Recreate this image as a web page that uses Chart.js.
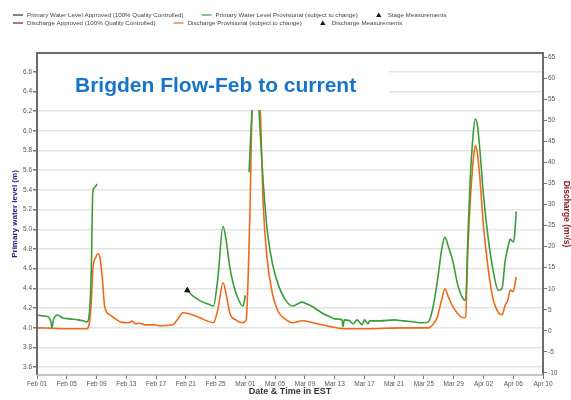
<!DOCTYPE html>
<html>
<head>
<meta charset="utf-8">
<script src="https://cdn.jsdelivr.net/npm/chart.js@4.4.1/dist/chart.umd.min.js"></script>
<style>
  html, body { margin: 0; padding: 0; background: #fff; }
  #wrap { width: 571px; height: 400px; }
</style>
</head>
<body>
<div id="wrap"><canvas id="flowChart" width="571" height="400"></canvas></div>
<script>
// x values are days counted from Feb 01
const xTickLabels = ['Feb 01', 'Feb 05', 'Feb 09', 'Feb 13', 'Feb 17', 'Feb 21', 'Feb 25', 'Mar 01', 'Mar 05',
  'Mar 09', 'Mar 13', 'Mar 17', 'Mar 21', 'Mar 25', 'Mar 29', 'Apr 02', 'Apr 06', 'Apr 10'];
const levelTicks = [3.6, 3.8, 4.0, 4.2, 4.4, 4.6, 4.8, 5.0, 5.2, 5.4, 5.6, 5.8, 6.0, 6.2, 6.4, 6.6];
const dischargeTicks = [-10, -5, 0, 5, 10, 15, 20, 25, 30, 35, 40, 45, 50, 55, 60, 65];

// Primary water level, provisional (m) - null = no data
const levelDays = [0, 0.8, 1.5, 1.9, 2.0, 2.2, 2.4, 2.7, 3.5, 4.4, 5.5, 6.2, 6.7, 7.0, 7.3, 7.5, 7.8, 8.06, 8.1,
  20.3, 21.0, 22.0, 23.0, 23.7, 24.3, 25.0, 25.4, 25.9, 26.3, 27.0, 27.7, 28.0, 28.2,
  28.5, 28.9, 29.3, 29.7, 30.1, 30.4, 31.0, 31.7, 32.5, 33.6, 34.4, 35.0, 35.6, 36.3, 37.1, 38.3, 39.4, 40.0,
  41.0, 41.1, 41.3, 42.0, 42.5, 43.0, 43.7, 44.0, 44.5, 44.7, 46.1, 48.0, 49.2, 50.5, 51.9, 52.6, 53.2, 53.8,
  54.4, 54.8, 55.3, 55.9, 56.5, 57.3, 57.6, 57.9, 58.2, 58.6, 58.9, 59.2, 59.5, 60.0, 60.6, 61.3, 62.0, 62.5,
  62.9, 63.3, 63.6, 64.0, 64.2, 64.4];
const levelValues = [4.13, 4.12, 4.11, 4.05, 4.00, 4.08, 4.11, 4.13, 4.10, 4.09, 4.08, 4.07, 4.06, 4.12, 4.60, 5.38, 5.43, 5.46, null,
  4.37, 4.32, 4.27, 4.24, 4.22, 4.50, 5.03, 4.90, 4.62, 4.47, 4.30, 4.22, 4.33, null,
  5.58, 6.20, 6.50, 6.35, 5.85, 5.48, 4.95, 4.63, 4.42, 4.26, 4.22, 4.24, 4.26, 4.24, 4.21, 4.15, 4.11, 4.09,
  4.08, 4.01, 4.08, 4.07, 4.04, 4.08, 4.03, 4.08, 4.04, 4.07, 4.07, 4.08, 4.07, 4.06, 4.05, 4.06, 4.20, 4.47,
  4.80, 4.92, 4.82, 4.67, 4.45, 4.29, 4.28, 4.90, 5.48, 5.95, 6.12, 6.05, 5.82, 5.35, 4.93, 4.58, 4.38, 4.40,
  4.67, 4.82, 4.90, 4.87, 4.95, 5.18];

// Discharge, provisional (m3/s)
const flowDays = [0, 2, 4, 6.7, 7.0, 7.3, 7.5, 7.9, 8.2, 8.5, 8.8, 9.1, 9.8, 10.5, 11.2, 12.3, 12.8, 13.2, 13.8,
  14.5, 15.6, 16.5, 17.5, 18.3, 19.0, 19.6, 20.3, 21.9, 22.8, 23.7, 24.3, 25.0, 25.5, 25.9, 26.8, 27.7, 28.1,
  28.6, 28.9, 29.3, 30.0, 30.4, 30.9, 31.5, 32.3, 33.6, 34.4, 35.6, 37.1, 39.4, 41.1, 44.5, 49.2, 52.6, 53.2,
  53.8, 54.4, 54.8, 55.3, 55.9, 57.3, 57.6, 57.9, 58.2, 58.6, 58.9, 59.2, 59.5, 60.0, 60.6, 61.3, 62.0, 62.5,
  62.9, 63.3, 63.6, 64.0, 64.4];
const flowValues = [0.7, 0.6, 0.5, 0.5, 1.5, 7, 14.5, 17.5, 18.3, 17, 12, 5.7, 3.8, 2.9, 2.1, 1.9, 2.3, 1.7, 1.8,
  1.4, 1.4, 1.2, 1.3, 1.5, 3, 4.3, 4.1, 3.1, 2.4, 1.9, 5, 11.4, 8, 4.3, 2.5, 1.9, 2.6,
  27, 52, 58, 52, 30, 17.6, 10, 5, 2.5, 1.9, 2.4, 1.9, 1.0, 0.5, 0.5, 0.7, 0.7, 1.5,
  3.3, 7.5, 10, 8, 5.7, 3.1, 3.3, 19, 30, 40, 44, 42, 36.6, 25, 15.2, 7.5, 4.3, 3.8,
  6, 7.4, 9.7, 9.3, 12.8];

// stage measurement
const stageMeasDays = [20.2];
const stageMeasValues = [4.38];

const FONT = "'Liberation Sans', Arial, sans-serif";
const GREEN = '#3c9c3c';
const ORANGE = '#ef6a1c';

const toPoints = (xs, ys) => xs.map((x, i) => ({ x: x, y: ys[i] }));

// little two-row legend on top, flowing left to right
const legendRows = [
  [
    { text: 'Primary Water Level Approved (100% Quality Controlled)', color: '#23304a', kind: 'line' },
    { text: 'Primary Water Level Provisional (subject to change)', color: GREEN, kind: 'line' },
    { text: 'Stage Measurements', color: '#111', kind: 'tri' }
  ],
  [
    { text: 'Discharge Approved (100% Quality Controlled)', color: '#7a1f24', kind: 'line' },
    { text: 'Discharge Provisional (subject to change)', color: ORANGE, kind: 'line' },
    { text: 'Discharge Measurements', color: '#111', kind: 'tri' }
  ]
];

function drawTriangle(ctx, cx, cy, r) {
  ctx.beginPath();
  ctx.moveTo(cx, cy - r);
  ctx.lineTo(cx + r, cy + r * 0.8);
  ctx.lineTo(cx - r, cy + r * 0.8);
  ctx.closePath();
  ctx.fill();
}

const topLegend = {
  id: 'topLegend',
  afterDraw(chart) {
    const ctx = chart.ctx;
    ctx.save();
    ctx.font = '6.2px ' + FONT;
    ctx.textBaseline = 'middle';
    legendRows.forEach((row, r) => {
      const y = 15 + r * 8;
      let x = 13;
      row.forEach(item => {
        ctx.fillStyle = item.color;
        ctx.strokeStyle = item.color;
        if (item.kind === 'line') {
          ctx.lineWidth = 1.2;
          ctx.beginPath();
          ctx.moveTo(x, y);
          ctx.lineTo(x + 10, y);
          ctx.stroke();
          x += 14;
        } else {
          drawTriangle(ctx, x + 3, y, 2.6);
          x += 12;
        }
        ctx.fillStyle = '#444';
        ctx.fillText(item.text, x, y);
        x += ctx.measureText(item.text).width + 18;
      });
    });
    ctx.restore();
  }
};

// white panel with the big blue title, plus the plot frame
const titlePanel = {
  id: 'titlePanel',
  afterDatasetsDraw(chart) {
    const ctx = chart.ctx;
    const a = chart.chartArea;
    ctx.save();
    ctx.fillStyle = '#fff';
    ctx.fillRect(a.left + 1, a.top + 1, 351, 56);
    ctx.fillStyle = '#1874c8';
    ctx.font = 'bold 21px ' + FONT;
    ctx.textBaseline = 'alphabetic';
    ctx.fillText('Brigden Flow-Feb to current', 75, 92);

    ctx.strokeStyle = '#6b6b6b';
    ctx.lineWidth = 2;
    ctx.beginPath();
    ctx.moveTo(a.left, a.bottom);
    ctx.lineTo(a.left, a.top);
    ctx.lineTo(a.right, a.top);
    ctx.lineTo(a.right, a.bottom);
    ctx.stroke();
    ctx.strokeStyle = '#b5b5b5';
    ctx.lineWidth = 1.5;
    ctx.beginPath();
    ctx.moveTo(a.left, a.bottom);
    ctx.lineTo(a.right, a.bottom);
    ctx.stroke();
    ctx.restore();
  }
};

const ctx = document.getElementById('flowChart').getContext('2d');

const chart = new Chart(ctx, {
  type: 'line',
  data: {
    datasets: [
      {
        label: 'Stage Measurements',
        type: 'scatter',
        data: toPoints(stageMeasDays, stageMeasValues),
        yAxisID: 'y',
        pointStyle: 'triangle',
        pointRadius: 3,
        backgroundColor: '#111',
        borderColor: '#111',
        borderWidth: 1
      },
      {
        label: 'Primary Water Level Provisional (subject to change)',
        data: toPoints(levelDays, levelValues),
        yAxisID: 'y',
        borderColor: GREEN,
        borderWidth: 1.6,
        pointRadius: 0,
        spanGaps: false,
        cubicInterpolationMode: 'monotone'
      },
      {
        label: 'Discharge Provisional (subject to change)',
        data: toPoints(flowDays, flowValues),
        yAxisID: 'y1',
        borderColor: ORANGE,
        borderWidth: 1.6,
        pointRadius: 0,
        cubicInterpolationMode: 'monotone'
      }
    ]
  },
  options: {
    responsive: false,
    animation: false,
    devicePixelRatio: 1,
    layout: { padding: { top: 53, left: 0, right: 0, bottom: 0 } },
    plugins: {
      legend: { display: false },
      tooltip: { enabled: false }
    },
    scales: {
      x: {
        type: 'linear',
        min: 0,
        max: 68,
        afterBuildTicks: (scale) => {
          scale.ticks = xTickLabels.map((_, i) => ({ value: i * 4 }));
        },
        afterFit: (scale) => { scale.height = 25; },
        ticks: {
          autoSkip: false,
          maxRotation: 0,
          padding: 1,
          color: '#555',
          font: { family: FONT, size: 6.5 },
          callback: (v) => xTickLabels[Math.round(v / 4)]
        },
        grid: { drawOnChartArea: false, tickLength: 4, tickColor: '#777' },
        border: { display: false },
        title: {
          display: true,
          text: 'Date & Time in EST',
          color: '#333',
          font: { family: FONT, size: 9, weight: 'bold' },
          padding: { top: 0, bottom: 3 }
        }
      },
      y: {
        position: 'left',
        min: 3.52,
        max: 6.79,
        afterBuildTicks: (scale) => {
          scale.ticks = levelTicks.map(v => ({ value: v }));
        },
        afterFit: (scale) => { scale.width = 37; },
        ticks: {
          padding: 1,
          color: '#555',
          font: { family: FONT, size: 6.5 },
          callback: (v) => v.toFixed(1)
        },
        grid: { color: '#e3e3e3', lineWidth: 1.5, tickLength: 4, tickColor: '#777' },
        border: { display: false },
        title: {
          display: true,
          text: 'Primary water level (m)',
          color: '#1e1e78',
          font: { family: FONT, size: 8, weight: 'bold' },
          padding: { top: 10, bottom: 0 }
        }
      },
      y1: {
        position: 'right',
        min: -10.5,
        max: 66,
        afterBuildTicks: (scale) => {
          scale.ticks = dischargeTicks.map(v => ({ value: v }));
        },
        afterFit: (scale) => { scale.width = 28; },
        ticks: {
          padding: 1,
          color: '#555',
          font: { family: FONT, size: 6.5 },
          callback: (v) => String(v)
        },
        grid: { drawOnChartArea: false, tickLength: 4, tickColor: '#777' },
        border: { display: false },
        title: {
          display: true,
          text: 'Discharge (m³/s)',
          color: '#8a1c22',
          font: { family: FONT, size: 8.5, weight: 'bold' },
          padding: { top: 0, bottom: 0 }
        }
      }
    }
  },
  plugins: [titlePanel, topLegend]
});
</script>
</body>
</html>
